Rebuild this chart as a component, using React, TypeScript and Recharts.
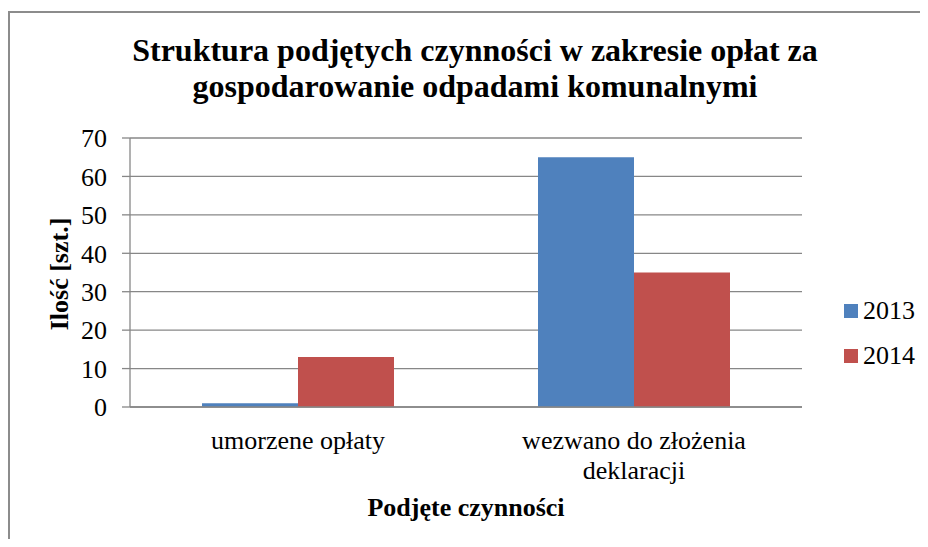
import React from "react";
import {
  BarChart,
  Bar,
  XAxis,
  YAxis,
  CartesianGrid,
  Legend,
  Label,
  Customized,
} from "recharts";

const categories = ["umorzene opłaty", "wezwano do złożenia deklaracji"];
const series2013 = [1, 65];
const series2014 = [13, 35];
const yTicks = [0, 10, 20, 30, 40, 50, 60, 70];

const title = [
  "Struktura podjętych czynności w zakresie opłat za",
  "gospodarowanie odpadami komunalnymi",
];

const data = categories.map((name, i) => ({
  name,
  y2013: series2013[i],
  y2014: series2014[i],
}));

const FONT = '"Liberation Serif", "Times New Roman", serif';
const GRID = "#878787";

// wrap category labels roughly like Excel does
const wrap = (s: string, max = 20) => {
  const lines: string[] = [];
  let cur = "";
  s.split(" ").forEach((w) => {
    const next = cur ? cur + " " + w : w;
    if (next.length > max && cur) {
      lines.push(cur);
      cur = w;
    } else cur = next;
  });
  if (cur) lines.push(cur);
  return lines;
};

const CatTick = (props: any) => {
  const { x, y, payload } = props;
  const lines = wrap(payload.value);
  return (
    <text x={x} y={y} textAnchor="middle" fontFamily={FONT} fontSize={26} fill="#000">
      {lines.map((l, i) => (
        <tspan key={i} x={x} dy={i === 0 ? 42 : 30}>
          {l}
        </tspan>
      ))}
    </text>
  );
};

const Titles = () => (
  <g fontFamily={FONT} fill="#000">
    {title.map((t, i) => (
      <text key={i} x={467} y={53 + i * 36} textAnchor="middle" fontSize={32} fontWeight="bold">
        {t}
      </text>
    ))}
    <text
      x={60}
      y={266}
      transform="rotate(-90 60 266)"
      textAnchor="middle"
      fontSize={26}
      fontWeight="bold"
    >
      Ilość [szt.]
    </text>
  </g>
);

const LegendBox = (props: any) => (
  <div style={{ fontFamily: FONT, fontSize: 26, color: "#000" }}>
    {(props.payload || []).map((p: any) => (
      <div key={p.value} style={{ display: "flex", alignItems: "center", height: 45 }}>
        <span style={{ width: 14, height: 14, background: p.color, marginRight: 5 }} />
        <span>{p.value}</span>
      </div>
    ))}
  </div>
);

export default function App() {
  return (
    <div
      style={{
        position: "relative",
        width: 920,
        height: 539,
        overflow: "hidden",
        marginBottom: -8,
      }}
    >
      <div style={{ position: "absolute", left: 0, top: 3, width: 920, height: 2, background: "#8c8c8c" }} />
      <div style={{ position: "absolute", left: 0, top: 3, width: 2, height: 536, background: "#8c8c8c" }} />
      <BarChart
        width={920}
        height={539}
        data={data}
        margin={{ top: 130, right: 126, bottom: 0, left: 0 }}
        barCategoryGap={72}
        barGap={0}
      >
        <CartesianGrid vertical={false} stroke={GRID} strokeWidth={1.3} />
        <XAxis
          dataKey="name"
          height={140}
          tickLine={false}
          tickSize={0}
          tickMargin={0}
          axisLine={{ stroke: GRID, strokeWidth: 1.3 }}
          tick={<CatTick />}
          interval={0}
        >
          <Label
            value="Podjęte czynności"
            position="insideBottom"
            offset={31}
            style={{ fontFamily: FONT, fontSize: 26, fontWeight: "bold", fill: "#000" }}
          />
        </XAxis>
        <YAxis
          width={122}
          domain={[0, 70]}
          ticks={yTicks}
          interval={0}
          tickSize={8}
          tickMargin={15}
          tickLine={{ stroke: GRID, strokeWidth: 1.3 }}
          axisLine={{ stroke: GRID, strokeWidth: 1.3 }}
          tick={{ fontFamily: FONT, fontSize: 26, fill: "#000" }}
        />
        <Legend
          layout="vertical"
          align="center"
          verticalAlign="middle"
          content={<LegendBox />}
          wrapperStyle={{ left: 836, top: 280, width: 84 }}
        />
        <Bar dataKey="y2013" name="2013" fill="#4F81BD" isAnimationActive={false} />
        <Bar dataKey="y2014" name="2014" fill="#C0504D" isAnimationActive={false} />
        <Customized component={Titles} />
      </BarChart>
    </div>
  );
}
